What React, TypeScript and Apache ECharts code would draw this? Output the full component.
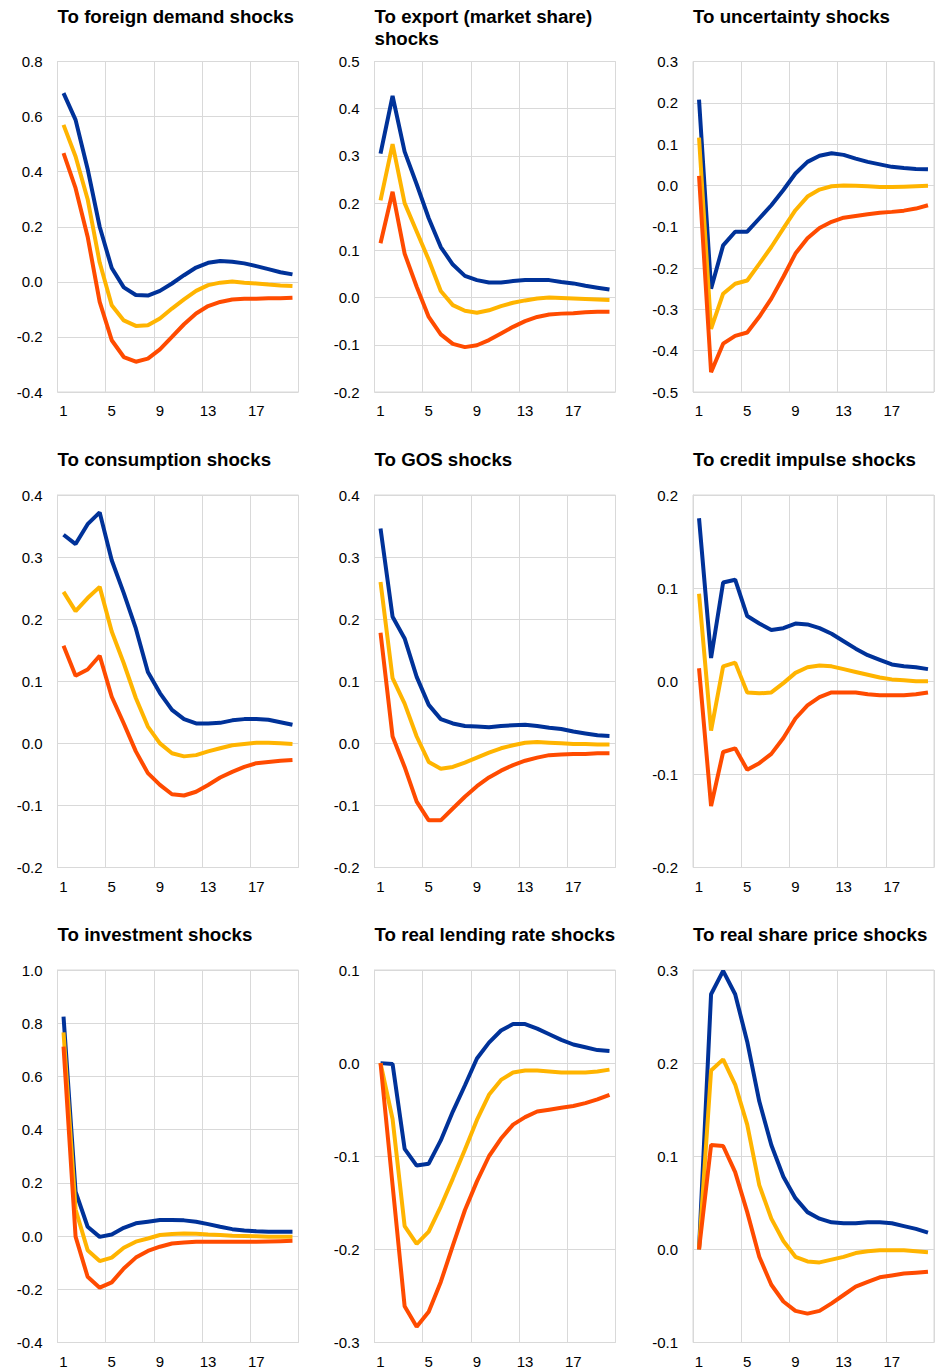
import React, { useEffect, useRef } from "react";
import * as echarts from "echarts";

const periods = Array.from({ length: 20 }, (_, i) => String(i + 1));

const titles = [
  "To foreign demand shocks",
  "To export (market share)\nshocks",
  "To uncertainty shocks",
  "To consumption shocks",
  "To GOS shocks",
  "To credit impulse shocks",
  "To investment shocks",
  "To real lending rate shocks",
  "To real share price shocks",
];

const yMin = [-0.4, -0.2, -0.5, -0.2, -0.2, -0.2, -0.4, -0.3, -0.1];
const yMax = [0.8, 0.5, 0.3, 0.4, 0.4, 0.2, 1.0, 0.1, 0.3];
const yStep = [0.2, 0.1, 0.1, 0.1, 0.1, 0.1, 0.2, 0.1, 0.1];

// 1. Foreign demand
const foreignBlue = [0.685, 0.588, 0.41, 0.2, 0.05, -0.02, -0.048, -0.05, -0.033, -0.006, 0.024, 0.052, 0.069, 0.076, 0.073, 0.067, 0.057, 0.046, 0.035, 0.027];
const foreignYellow = [0.57, 0.455, 0.3, 0.07, -0.085, -0.14, -0.16, -0.158, -0.133, -0.097, -0.064, -0.033, -0.012, -0.003, 0.001, -0.003, -0.006, -0.01, -0.013, -0.015];
const foreignRed = [0.467, 0.34, 0.164, -0.073, -0.212, -0.273, -0.29, -0.279, -0.245, -0.2, -0.154, -0.115, -0.088, -0.073, -0.064, -0.061, -0.061, -0.06, -0.06, -0.058];

// 2. Export (market share)
const exportBlue = [0.305, 0.427, 0.309, 0.24, 0.168, 0.107, 0.07, 0.046, 0.037, 0.032, 0.032, 0.035, 0.037, 0.037, 0.037, 0.033, 0.03, 0.025, 0.021, 0.017];
const exportYellow = [0.206, 0.325, 0.2, 0.14, 0.08, 0.014, -0.016, -0.028, -0.032, -0.027, -0.018, -0.011, -0.006, -0.002, 0.0, -0.001, -0.002, -0.003, -0.004, -0.005];
const exportRed = [0.115, 0.224, 0.093, 0.023, -0.041, -0.078, -0.098, -0.105, -0.101, -0.09, -0.076, -0.062, -0.05, -0.041, -0.036, -0.034, -0.033, -0.031, -0.03, -0.03];

// 3. Uncertainty
const uncertBlue = [0.208, -0.25, -0.145, -0.112, -0.112, -0.08, -0.048, -0.011, 0.029, 0.057, 0.072, 0.078, 0.074, 0.065, 0.057, 0.051, 0.045, 0.042, 0.04, 0.039];
const uncertYellow = [0.116, -0.347, -0.262, -0.238, -0.23, -0.19, -0.149, -0.104, -0.06, -0.027, -0.01, -0.002, 0.0, -0.001, -0.002, -0.004, -0.004, -0.003, -0.002, -0.001];
const uncertRed = [0.023, -0.452, -0.383, -0.364, -0.356, -0.318, -0.274, -0.221, -0.165, -0.128, -0.103, -0.088, -0.078, -0.074, -0.07, -0.066, -0.064, -0.061, -0.056, -0.048];

// 4. Consumption
const consBlue = [0.336, 0.321, 0.353, 0.372, 0.295, 0.242, 0.185, 0.115, 0.081, 0.054, 0.039, 0.032, 0.032, 0.033, 0.037, 0.039, 0.039, 0.038, 0.034, 0.03];
const consYellow = [0.244, 0.213, 0.234, 0.252, 0.18, 0.129, 0.073, 0.027, 0.0, -0.016, -0.021, -0.019, -0.013, -0.008, -0.003, -0.001, 0.001, 0.001, 0.0, -0.001];
const consRed = [0.157, 0.109, 0.119, 0.141, 0.075, 0.032, -0.013, -0.048, -0.067, -0.082, -0.084, -0.078, -0.067, -0.055, -0.046, -0.038, -0.032, -0.03, -0.028, -0.027];

// 5. GOS
const gosBlue = [0.346, 0.204, 0.169, 0.107, 0.062, 0.039, 0.032, 0.028, 0.027, 0.026, 0.028, 0.029, 0.03, 0.028, 0.025, 0.023, 0.019, 0.016, 0.013, 0.012];
const gosYellow = [0.26, 0.105, 0.064, 0.011, -0.03, -0.041, -0.038, -0.031, -0.023, -0.015, -0.008, -0.003, 0.001, 0.002, 0.001, 0.0, -0.001, -0.001, -0.002, -0.002];
const gosRed = [0.178, 0.011, -0.038, -0.094, -0.124, -0.124, -0.105, -0.086, -0.069, -0.055, -0.044, -0.035, -0.028, -0.023, -0.019, -0.018, -0.017, -0.017, -0.016, -0.016];

// 6. Credit impulse
const creditBlue = [0.175, 0.025, 0.106, 0.109, 0.07, 0.062, 0.055, 0.057, 0.062, 0.061, 0.057, 0.051, 0.043, 0.035, 0.028, 0.023, 0.018, 0.016, 0.015, 0.013];
const creditYellow = [0.094, -0.053, 0.016, 0.02, -0.012, -0.013, -0.012, -0.002, 0.009, 0.015, 0.017, 0.016, 0.013, 0.01, 0.007, 0.004, 0.002, 0.001, 0.0, 0.0];
const creditRed = [0.014, -0.134, -0.076, -0.072, -0.095, -0.088, -0.078, -0.061, -0.04, -0.026, -0.017, -0.012, -0.012, -0.012, -0.014, -0.015, -0.015, -0.015, -0.014, -0.012];

// 7. Investment
const investBlue = [0.825, 0.167, 0.035, -0.003, 0.006, 0.031, 0.048, 0.054, 0.06, 0.06, 0.059, 0.054, 0.045, 0.035, 0.026, 0.021, 0.018, 0.016, 0.016, 0.016];
const investYellow = [0.766, 0.1, -0.053, -0.094, -0.081, -0.044, -0.021, -0.009, 0.004, 0.008, 0.01, 0.009, 0.006, 0.004, 0.001, 0.0, -0.001, -0.003, -0.003, -0.003];
const investRed = [0.712, -0.002, -0.153, -0.194, -0.174, -0.122, -0.081, -0.056, -0.04, -0.028, -0.024, -0.021, -0.021, -0.021, -0.021, -0.021, -0.021, -0.02, -0.019, -0.018];

// 8. Real lending rate
const lendBlue = [0.0, -0.001, -0.092, -0.11, -0.108, -0.083, -0.052, -0.024, 0.005, 0.022, 0.035, 0.042, 0.042, 0.037, 0.031, 0.025, 0.02, 0.017, 0.014, 0.013];
const lendYellow = [0.0, -0.06, -0.175, -0.194, -0.181, -0.154, -0.124, -0.093, -0.061, -0.034, -0.018, -0.01, -0.008, -0.008, -0.009, -0.01, -0.01, -0.01, -0.009, -0.007];
const lendRed = [0.0, -0.131, -0.261, -0.283, -0.267, -0.235, -0.196, -0.158, -0.127, -0.1, -0.081, -0.066, -0.058, -0.052, -0.05, -0.048, -0.046, -0.043, -0.039, -0.034];

// 9. Real share price
const shareBlue = [0.0, 0.274, 0.299, 0.274, 0.223, 0.159, 0.112, 0.078, 0.055, 0.04, 0.033, 0.029, 0.028, 0.028, 0.029, 0.029, 0.028, 0.025, 0.022, 0.018];
const shareYellow = [0.0, 0.192, 0.204, 0.177, 0.134, 0.069, 0.033, 0.009, -0.008, -0.013, -0.014, -0.011, -0.008, -0.004, -0.002, -0.001, -0.001, -0.001, -0.002, -0.003];
const shareRed = [0.0, 0.112, 0.111, 0.083, 0.04, -0.008, -0.038, -0.056, -0.066, -0.069, -0.066, -0.058, -0.049, -0.04, -0.035, -0.03, -0.028, -0.026, -0.025, -0.024];

const panelSeries = [
  [foreignBlue, foreignYellow, foreignRed],
  [exportBlue, exportYellow, exportRed],
  [uncertBlue, uncertYellow, uncertRed],
  [consBlue, consYellow, consRed],
  [gosBlue, gosYellow, gosRed],
  [creditBlue, creditYellow, creditRed],
  [investBlue, investYellow, investRed],
  [lendBlue, lendYellow, lendRed],
  [shareBlue, shareYellow, shareRed],
];

const lineColors = ["#003299", "#FFB400", "#FF4B00"];

const colLeft = [57.5, 374.5, 693];
const plotWidth = 241;
const rowTop = [61.5, 495, 970];
const rowHeight = [330.5, 372.5, 372.5];
const titleTop = [6, 449, 924];

const gridColor = "#d9d9d9";
const fontFamily = "Liberation Sans, Arial, Helvetica, sans-serif";

export default function App() {
  const ref = useRef<HTMLDivElement>(null);

  useEffect(() => {
    if (!ref.current) return;
    const chart = echarts.init(ref.current, null, { renderer: "svg" });

    const grid: any[] = [];
    const xAxis: any[] = [];
    const yAxis: any[] = [];
    const series: any[] = [];
    const title: any[] = [];

    for (let p = 0; p < 9; p++) {
      const r = Math.floor(p / 3);
      const c = p % 3;
      grid.push({
        left: colLeft[c],
        top: rowTop[r],
        width: plotWidth,
        height: rowHeight[r],
        show: true,
        borderColor: gridColor,
        borderWidth: 1,
        containLabel: false,
      });
      title.push({
        text: titles[p],
        left: colLeft[c],
        top: titleTop[r],
        padding: 0,
        textStyle: {
          fontFamily,
          fontSize: 18.7,
          fontWeight: "bold",
          color: "#000000",
          lineHeight: 21.5,
        },
      });
      xAxis.push({
        type: "category",
        gridIndex: p,
        data: periods,
        boundaryGap: true,
        axisTick: { show: false },
        axisLine: { show: true, lineStyle: { color: gridColor, width: 1 } },
        axisLabel: {
          interval: 3,
          fontSize: 15,
          fontFamily,
          color: "#000000",
          margin: 11,
        },
        splitLine: { show: true, interval: 3, lineStyle: { color: gridColor, width: 1 } },
      });
      yAxis.push({
        type: "value",
        gridIndex: p,
        min: yMin[p],
        max: yMax[p],
        interval: yStep[p],
        axisTick: { show: false },
        axisLine: { show: true, lineStyle: { color: gridColor, width: 1 } },
        axisLabel: {
          fontSize: 15,
          fontFamily,
          color: "#000000",
          margin: 15,
          formatter: (v: number) => v.toFixed(1),
        },
        splitLine: { show: true, lineStyle: { color: gridColor, width: 1 } },
      });
      panelSeries[p].forEach((vals, k) => {
        series.push({
          type: "line",
          xAxisIndex: p,
          yAxisIndex: p,
          data: vals,
          symbol: "none",
          showSymbol: false,
          lineStyle: { color: lineColors[k], width: 4 },
          itemStyle: { color: lineColors[k] },
          z: 2 + k,
        });
      });
    }

    chart.setOption({
      animation: false,
      backgroundColor: "#ffffff",
      title,
      grid,
      xAxis,
      yAxis,
      series,
    });

    return () => chart.dispose();
  }, []);

  return (
    <div
      ref={ref}
      style={{ position: "absolute", left: 0, top: 0, width: 939, height: 1371 }}
    />
  );
}
